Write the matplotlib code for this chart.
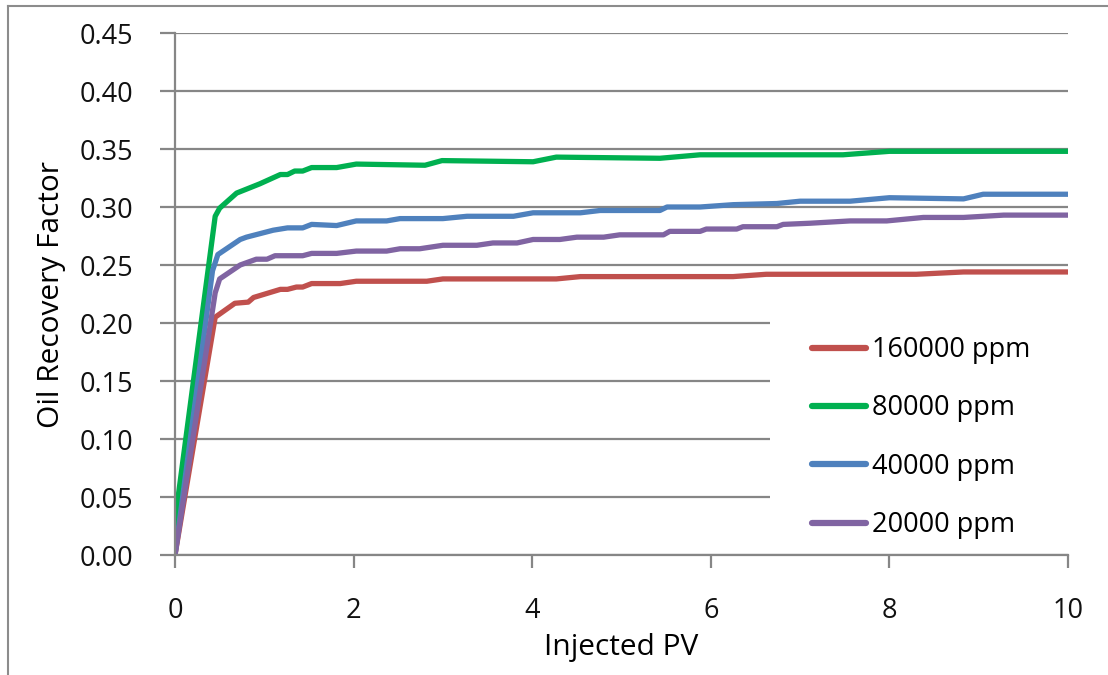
import matplotlib.pyplot as plt
from matplotlib.lines import Line2D
from matplotlib.patches import Rectangle

plt.rcParams['font.family'] = ['Open Sans', 'DejaVu Sans']

# 160000 ppm
pv_160k = [0, 0.45, 0.67, 0.82, 0.88, 1.18, 1.26, 1.36, 1.43, 1.53, 1.85, 2.03, 2.82, 3.0, 4.27, 4.54, 6.25, 6.62, 8.3, 8.83, 10.0]
rf_160k = [0, 0.205, 0.217, 0.218, 0.222, 0.229, 0.229, 0.231, 0.231, 0.234, 0.234, 0.236, 0.236, 0.238, 0.238, 0.240, 0.240, 0.242, 0.242, 0.244, 0.244]

# 80000 ppm
pv_80k = [0, 0.04, 0.45, 0.50, 0.69, 0.95, 1.18, 1.26, 1.34, 1.43, 1.53, 1.81, 2.03, 2.80, 2.99, 4.01, 4.27, 5.43, 5.88, 7.48, 8.0, 10.0]
rf_80k = [0, 0.053, 0.292, 0.299, 0.312, 0.320, 0.328, 0.328, 0.331, 0.331, 0.334, 0.334, 0.337, 0.336, 0.340, 0.339, 0.343, 0.342, 0.345, 0.345, 0.348, 0.348]

# 40000 ppm
pv_40k = [0, 0.42, 0.48, 0.73, 0.80, 0.95, 1.10, 1.26, 1.43, 1.53, 1.81, 2.03, 2.37, 2.52, 3.0, 3.27, 3.79, 4.01, 4.54, 4.76,
          5.43, 5.51, 5.88, 6.25, 6.74, 7.0, 7.56, 8.0, 8.83, 9.05, 10.0]
rf_40k = [0, 0.245, 0.259, 0.272, 0.274, 0.277, 0.280, 0.282, 0.282, 0.285, 0.284, 0.288, 0.288, 0.290, 0.290, 0.292, 0.292, 0.295, 0.295, 0.297,
          0.297, 0.300, 0.300, 0.302, 0.303, 0.305, 0.305, 0.308, 0.307, 0.311, 0.311]

# 20000 ppm
pv_20k = [0, 0.45, 0.50, 0.73, 0.91, 1.03, 1.12, 1.43, 1.53, 1.81, 2.03, 2.37, 2.52, 2.74, 3.0, 3.38, 3.56, 3.83, 4.01, 4.31,
          4.5, 4.8, 4.98, 5.47, 5.54, 5.88, 5.95, 6.29, 6.36, 6.74, 6.81, 7.11, 7.56, 7.97, 8.38, 8.83, 9.28, 10.0]
rf_20k = [0, 0.226, 0.238, 0.250, 0.255, 0.255, 0.258, 0.258, 0.260, 0.260, 0.262, 0.262, 0.264, 0.264, 0.267, 0.267, 0.269, 0.269, 0.272, 0.272,
          0.274, 0.274, 0.276, 0.276, 0.279, 0.279, 0.281, 0.281, 0.283, 0.283, 0.285, 0.286, 0.288, 0.288, 0.291, 0.291, 0.293, 0.293]

labels = ['160000 ppm', '80000 ppm', '40000 ppm', '20000 ppm']
colors = ['#C0504D', '#00B050', '#4F81BD', '#8064A2']
x_ticks = [0, 2, 4, 6, 8, 10]
y_ticks = [0.00, 0.05, 0.10, 0.15, 0.20, 0.25, 0.30, 0.35, 0.40, 0.45]

grey = '#868686'

fig = plt.figure(figsize=(11.08, 6.75), dpi=100)
ax = fig.add_axes([175 / 1108, 1 - 555 / 675, (1068 - 175) / 1108, (555 - 33) / 675])

series = [(pv_160k, rf_160k), (pv_80k, rf_80k), (pv_40k, rf_40k), (pv_20k, rf_20k)]
for (xs, ys), lab, c in zip(series, labels, colors):
    ax.plot(xs, ys, color=c, lw=3.8, label=lab, solid_joinstyle='round', solid_capstyle='round', zorder=3)

ax.set_xlim(0, 10)
ax.set_ylim(0, 0.45)
ax.set_xticks(x_ticks)
ax.set_yticks(y_ticks)
ax.set_yticklabels([f'{v:.2f}' for v in y_ticks])
ax.grid(axis='y', color=grey, lw=1.6)
ax.set_axisbelow(True)

for s in ['top', 'right']:
    ax.spines[s].set_visible(False)
for s in ['left', 'bottom']:
    ax.spines[s].set_color(grey)
    ax.spines[s].set_linewidth(1.6)
    ax.spines[s].set_zorder(6)

ax.tick_params(axis='y', length=11, width=1.6, color=grey, labelsize=19.5, pad=19, labelcolor='#111111')
ax.tick_params(axis='x', length=9, width=1.6, color=grey, labelsize=19.5, pad=21, labelcolor='#111111')

ax.set_xlabel('Injected PV', fontsize=21.5, labelpad=6)
ax.set_ylabel('Oil Recovery Factor', fontsize=21.5, labelpad=10)

# white legend area hiding the gridlines
ax.add_patch(Rectangle(((770 - 175) / 893, 0.004), 1 - (770 - 175) / 893, (555 - 318) / 522 - 0.004,
                       transform=ax.transAxes, facecolor='white', edgecolor='none', zorder=2))

leg = ax.legend(loc='upper left', bbox_to_anchor=((812 - 175) / 893, (555 - 336) / 522), borderaxespad=0,
                fontsize=19.5, frameon=False, borderpad=0,
                handlelength=2.0, handletextpad=0.2, labelspacing=1.12)
for h in leg.get_lines():
    h.set_linewidth(4.5)
    h.set_solid_capstyle('round')
leg.set_zorder(5)

# outer chart frame (top and left edges visible)
fig.add_artist(Line2D([8 / 1108, 8 / 1108], [0, 1 - 6 / 675], transform=fig.transFigure, color='#8c8c8c', lw=1.5))
fig.add_artist(Line2D([8 / 1108, 1], [1 - 6 / 675, 1 - 6 / 675], transform=fig.transFigure, color='#8c8c8c', lw=1.5))

fig.savefig('out.png', dpi=100)
